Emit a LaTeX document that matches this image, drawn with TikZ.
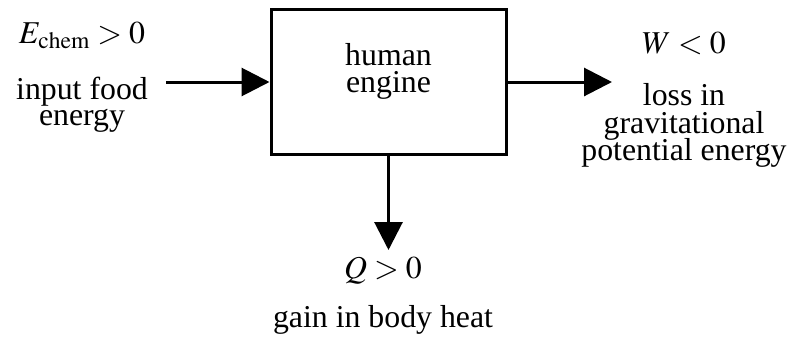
\documentclass[tikz,border=0pt]{standalone}
\usepackage{mathptmx}
\usepackage{fontspec}
\setmainfont{Liberation Serif}
\usetikzlibrary{arrows.meta}

\begin{document}
\begin{tikzpicture}[x=0.5pt,y=-0.5pt,line width=1.5pt,
  every node/.style={font=\fontsize{15.9}{13.5}\selectfont,inner sep=0pt,anchor=base},
  flow/.style={-{Triangle[length=14pt,width=14pt]}}]
\useasboundingbox (0,0) rectangle (798,338);
\node[draw,minimum width=117.5pt,minimum height=72.5pt,anchor=center] (engine) at (388.5,81.5) {};
\node (human) at (388.5,65) {human}; \node (enginetxt) at (388.5,92) {engine};
\coordinate (foodin) at (166,82);
\coordinate (workout) at (612,82);
\coordinate (heatout) at (388.5,250);
\draw[flow] (foodin) -- (foodin-|engine.west);
\draw[flow] (engine.east|-workout) -- (workout);
\draw[flow] (engine.south) -- (heatout);
% input side
\node (echem) at (82,43) {$E_{\mathrm{chem}} > 0$};
\node (food1) at (82,99) {input food}; \node (food2) at (82,125) {energy};
% output side
\node (wneg) at (684,53) {$W < 0$};
\node (work1) at (684,105) {loss in}; \node (work2) at (684,133) {gravitational};
\node (work3) at (684,160) {potential energy};
% heat
\node (qpos) at (383,278) {$Q > 0$};
\node (heattxt) at (383,327) {gain in body heat};
\end{tikzpicture}
\end{document}
